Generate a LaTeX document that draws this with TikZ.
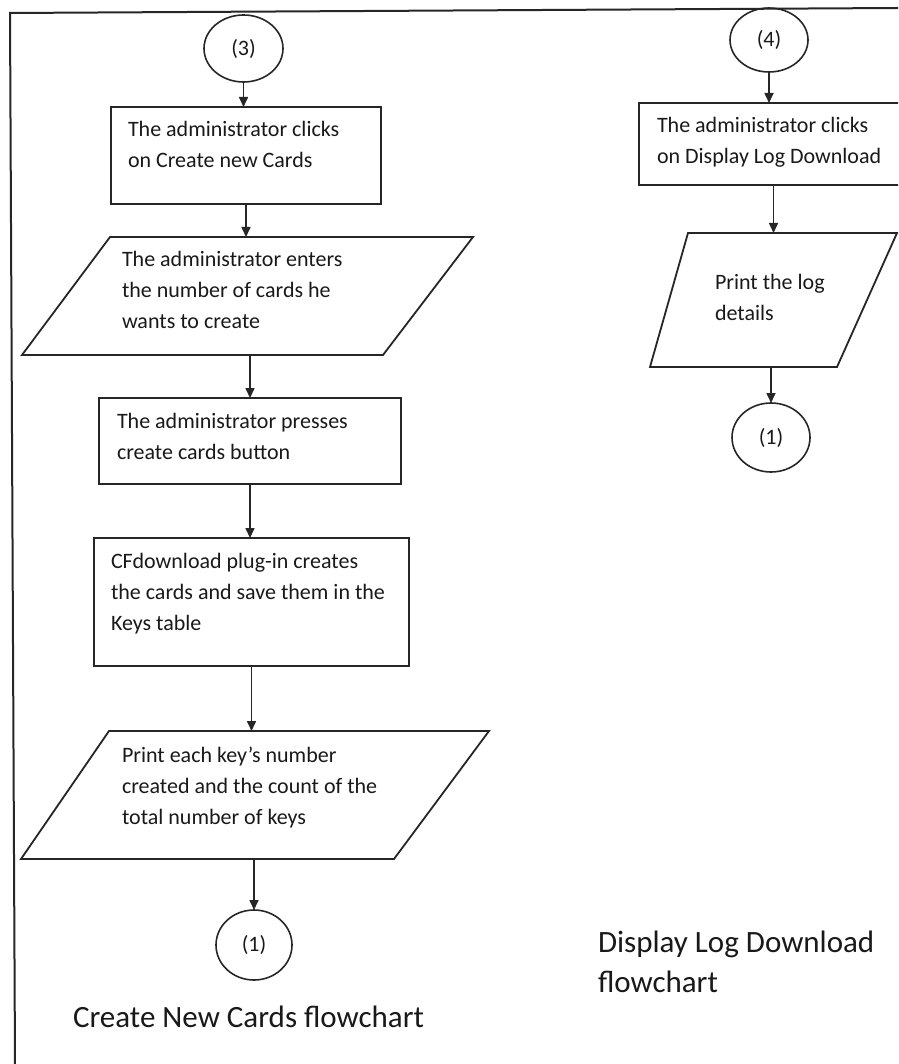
\documentclass[tikz,border=0pt]{standalone}
\usepackage{fontspec}
\setmainfont{Carlito}
\usetikzlibrary{shapes.geometric,arrows.meta}
\begin{document}
\begin{tikzpicture}[x=1pt,y=-1pt,
  every node/.style={inner sep=0pt, outer sep=0pt},
  ink/.style={draw=black!85},
  frame/.style={ink, line width=2pt},
  stepbox/.style={ink, line width=1.8pt, rectangle},
  iobox/.style={rectangle},
  ioline/.style={ink, line width=1.8pt, line join=miter},
  conn/.style={ellipse, ink, line width=1.6pt, font=\fontsize{22}{24}\selectfont, text=black!90},
  txt/.style={anchor=base west, align=flush left, text width=#1, font=\fontsize{22}{31}\selectfont, text=black!90},
  txt/.default=380pt,
  arr/.style={ink, line width=1.6pt, -{Triangle[length=10pt,width=9pt]}},
  title/.style={font=\fontsize{31}{40}\selectfont, text=black!90}
]
\clip (0,0) rectangle (898,1064);
\useasboundingbox (0,0) rectangle (898,1064);

% page frame (top and left edges)
\draw[frame] (898,8) -- (10,13) -- (15,1064);

% ---------- Create New Cards ----------
\node[conn, minimum width=79pt, minimum height=67pt] (c3) at (243.5,48.5) {(3)};

\node[stepbox, minimum width=270pt, minimum height=97pt] (b1) at (246,155.5) {};
\node[txt] (t1) at (128,137) {The administrator clicks\\on Create new Cards};

\node[iobox, minimum width=451pt, minimum height=118pt] (p1) at (247.5,296) {};
\draw[ioline] ([xshift=88pt]p1.north west) -- (p1.north east)
  -- ([xshift=-90pt]p1.south east) -- (p1.south west) -- cycle;
\node[txt] (t2) at (122,267) {The administrator enters\\the number of cards he\\wants to create};

\node[stepbox, minimum width=302pt, minimum height=86pt] (b2) at (250,441) {};
\node[txt] (t3) at (117,428) {The administrator presses\\create cards button};

\node[stepbox, minimum width=315pt, minimum height=128pt] (b3) at (251.5,602) {};
\node[txt] (t4) at (111,568) {CFdownload plug-in creates\\the cards and save them in the\\Keys table};

\node[iobox, minimum width=468pt, minimum height=128pt] (p2) at (255,795) {};
\draw[ioline] ([xshift=88pt]p2.north west) -- (p2.north east)
  -- ([xshift=-95pt]p2.south east) -- (p2.south west) -- cycle;
\node[txt] (t5) at (122,762) {Print each key’s number\\created and the count of the\\total number of keys};

\node[conn, minimum width=76pt, minimum height=70pt] (c1a) at (254,945) {(1)};

\node[title, anchor=base] (h1) at (248.5,1027) {Create New Cards flowchart};

\draw[arr] (c3.south) -- (c3.south |- b1.north);
\draw[arr] (b1.south) -- (b1.south |- p1.north);
\draw[arr] (b2.north |- p1.south) -- (b2.north);
\draw[arr] (b2.south) -- (b2.south |- b3.north);
\draw[arr] (b3.south) -- (b3.south |- p2.north);
\draw[arr] (c1a.north |- p2.south) -- (c1a.north);

% ---------- Display Log Download ----------
\node[conn, minimum width=78pt, minimum height=64pt] (c4) at (769,40) {(4)};

\node[stepbox, minimum width=273pt, minimum height=82pt] (b4) at (775.5,144) {};
\node[txt] (t6) at (657,133) {The administrator clicks\\on Display Log Download};

\node[iobox, minimum width=247pt, minimum height=134pt] (p3) at (773.5,300) {};
\draw[ioline] ([xshift=38pt]p3.north west) -- (p3.north east)
  -- ([xshift=-60pt]p3.south east) -- (p3.south west) -- cycle;
\node[txt=160pt] (t7) at (715,290) {Print the log\\details};

\node[conn, minimum width=78pt, minimum height=69pt] (c1b) at (771,437.5) {(1)};

\node[title, anchor=base west, align=flush left, text width=290pt] (h2) at (598,952) {Display Log Download\\flowchart};

\draw[arr] (c4.south) -- (c4.south |- b4.north);
\draw[arr] (p3.north |- b4.south) -- (p3.north);
\draw[arr] (c1b.north |- p3.south) -- (c1b.north);
\end{tikzpicture}
\end{document}
